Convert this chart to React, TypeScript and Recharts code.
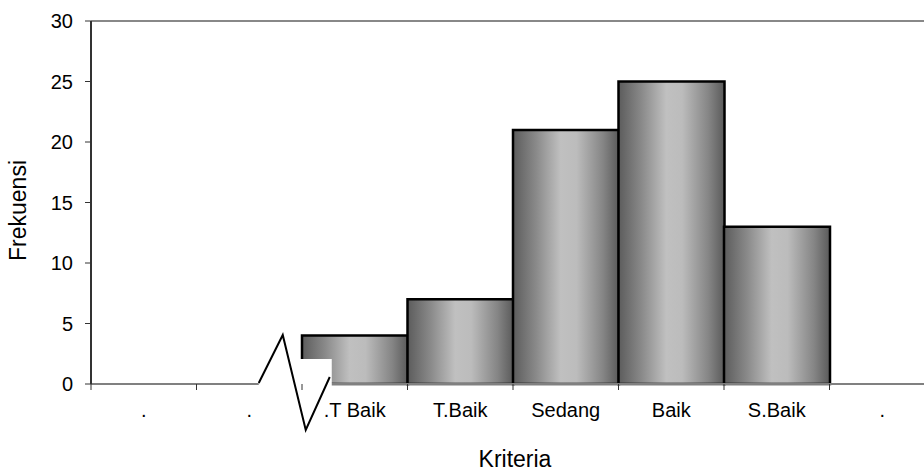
import React from 'react'
import { BarChart, Bar, XAxis, YAxis, ReferenceLine, ReferenceDot } from 'recharts'

// category keys are unique, the visible labels repeat "."
const categoryKeys = ['k1', 'k2', 'k3', 'k4', 'k5', 'k6', 'k7', 'k8']
const categoryLabels = ['.', '.', '.T Baik', 'T.Baik', 'Sedang', 'Baik', 'S.Baik', '.']
const frekuensi = [null, null, 4, 7, 21, 25, 13, null]
const yTicks = [0, 5, 10, 15, 20, 25, 30]

const data = categoryKeys.map((key, i) => ({
  key,
  label: categoryLabels[i],
  value: frekuensi[i]
}))

const FONT = '"Liberation Sans", Arial, sans-serif'

const XTick = (props: any) => {
  const { x, y, payload } = props
  const half = payload && payload.offset ? payload.offset : 52.75
  const label = categoryLabels[categoryKeys.indexOf(payload.value)] ?? ''
  return (
    <g>
      <line x1={x - half} y1={y} x2={x - half} y2={y + 6} stroke="#333" strokeWidth={1} />
      <text x={x} y={y + 33} textAnchor="middle" fontSize={20} fontFamily={FONT} fill="#000">
        {label}
      </text>
    </g>
  )
}

const XTitle = (props: any) => {
  const vb = props.viewBox || { x: 91, y: 384, width: 844 }
  return (
    <text x={vb.x + vb.width / 2 + 2} y={vb.y + 83} textAnchor="middle" fontSize={23} fontFamily={FONT} fill="#000">
      Kriteria
    </text>
  )
}

const YTitle = (props: any) => {
  const vb = props.viewBox || { x: 0, y: 21, height: 363 }
  const cx = 18
  const cy = vb.y + vb.height / 2 + 8
  return (
    <text
      x={cx}
      y={cy}
      transform={`rotate(-90, ${cx}, ${cy})`}
      textAnchor="middle"
      dominantBaseline="central"
      fontSize={23}
      fontFamily={FONT}
      fill="#000"
    >
      Frekuensi
    </text>
  )
}

// axis break drawn relative to the .T Baik category at y = 0
const AxisBreak = (props: any) => {
  const { cx, cy } = props
  const zig = [
    [-96, -1],
    [-72, -49],
    [-49, 46],
    [-25, -7]
  ]
  return (
    <g>
      <rect x={cx - 96} y={cy - 25} width={73} height={28} fill="#fff" />
      <polyline
        points={zig.map(([dx, dy]) => `${cx + dx},${cy + dy}`).join(' ')}
        fill="none"
        stroke="#000"
        strokeWidth={2}
      />
    </g>
  )
}

export default function App() {
  return (
    <div style={{ position: 'absolute', left: 0, top: 0, width: 924, height: 472, overflow: 'hidden', background: '#fff' }}>
      <BarChart
        width={950}
        height={472}
        data={data}
        margin={{ top: 21, right: 15, left: 0, bottom: 28 }}
        barCategoryGap={0}
        style={{ fontFamily: FONT }}
      >
        <defs>
          <linearGradient id="barShade" x1="0" y1="0" x2="1" y2="0">
            <stop offset="0%" stopColor="#5c5c5c" />
            <stop offset="22%" stopColor="#8a8a8a" />
            <stop offset="45%" stopColor="#c0c0c0" />
            <stop offset="60%" stopColor="#bcbcbc" />
            <stop offset="85%" stopColor="#858585" />
            <stop offset="100%" stopColor="#5a5a5a" />
          </linearGradient>
        </defs>
        <XAxis
          dataKey="key"
          height={60}
          tickLine={false}
          tickSize={0}
          tickMargin={0}
          axisLine={{ stroke: '#808080', strokeWidth: 2 }}
          tick={<XTick />}
          interval={0}
          label={<XTitle />}
        />
        <YAxis
          width={91}
          domain={[0, 30]}
          ticks={yTicks}
          tickSize={6}
          tickMargin={12}
          interval={0}
          axisLine={{ stroke: '#333', strokeWidth: 2 }}
          tickLine={{ stroke: '#333' }}
          tick={{ fontSize: 20, fill: '#000', fontFamily: FONT }}
          label={<YTitle />}
        />
        <ReferenceLine y={30} stroke="#888" strokeWidth={2} />
        <Bar
          dataKey="value"
          fill="url(#barShade)"
          stroke="#000"
          strokeWidth={2.5}
          isAnimationActive={false}
        />
        <ReferenceDot x="k3" y={0} r={0} ifOverflow="visible" shape={<AxisBreak />} />
      </BarChart>
    </div>
  )
}
